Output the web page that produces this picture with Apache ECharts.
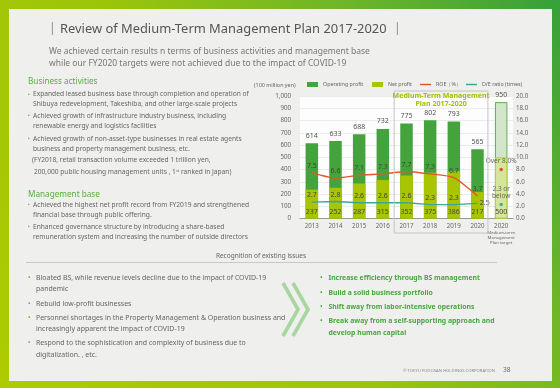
<!DOCTYPE html>
<html><head><meta charset="utf-8">
<script src="https://cdn.jsdelivr.net/npm/echarts@6/dist/echarts.min.js"></script>
<style>html,body{margin:0;padding:0;background:#fff}#c{width:560px;height:388px}</style>
</head><body><div id="c"></div>
<script>
// ---- data ----
var categories = ['2013','2014','2015','2016','2017','2018','2019','2020','2020 target'];
var operatingProfit = [614, 633, 688, 732, 775, 802, 793, 565, 950];
var netProfit = [237, 252, 287, 315, 352, 375, 386, 217, 500];
var roe = [7.5, 6.6, 7.1, 7.3, 7.7, 7.3, 6.7, 3.7, null];
var deRatio = [2.7, 2.8, 2.6, 2.6, 2.6, 2.3, 2.3, 2.5, null];
var roeTarget = [null, null, null, null, null, null, null, null, 8.0];
var deTarget = [null, null, null, null, null, null, null, null, 2.3];
var leftTicks = {min: 0, max: 1000, interval: 100};
var rightTicks = {min: 0, max: 20, interval: 2};

var FONT = 'Noto Sans';
var GREEN = '#45a33e', YG = '#a9c400', RED = '#e4572b', TEAL = '#3aa895';
var GRAY = '#666';

var chart = echarts.init(document.getElementById('c'), null, {renderer: 'canvas'});

function txt(x, y, s, opt) {
  opt = opt || {};
  return {type: 'text', x: x, y: y, silent: true, z: 10,
    style: {text: s, fontFamily: opt.ff || FONT, fontSize: opt.fs || 7, fill: opt.color || GRAY,
      fontWeight: opt.fw || 'normal', textAlign: opt.align || 'left', textVerticalAlign: 'middle',
      rich: opt.rich}};
}

var g = [];
// frame
g.push({type: 'rect', shape: {x: 0, y: 0, width: 560, height: 388}, z: -10, silent: true,
  style: {fill: new echarts.graphic.LinearGradient(0, 1, 1, 0, [
    {offset: 0, color: '#aecb00'}, {offset: 0.45, color: '#9cc50a'}, {offset: 0.75, color: '#6cb52a'}, {offset: 1, color: '#36a03a'}])}});
g.push({type: 'rect', shape: {x: 9, y: 9, width: 543, height: 372}, z: -9, silent: true,
  style: {fill: '#efefed'}});
// title
g.push(txt(49, 29, '|', {fs: 12, color: '#888'}));
g.push(txt(60, 29, 'Review of Medium-Term Management Plan 2017-2020', {fs: 12.9, color: '#555'}));
g.push(txt(394, 29, '|', {fs: 12, color: '#888'}));
g.push(txt(49, 52, 'We achieved certain results n terms of business activities and management base', {fs: 8.5, color: '#777'}));
g.push(txt(49, 64, 'while our FY2020 targets were not achieved due to the impact of COVID-19', {fs: 8.5, color: '#777'}));

// left column
var LFS = 6.63;
g.push(txt(28, 82, 'Business activities', {fs: 8.2, color: '#5aac42'}));
function lb(y, s, bullet, x) {
  if (bullet) g.push(txt(28, y, '▪', {fs: 5, color: '#6ab04a'}));
  g.push(txt(x || 33, y, s, {fs: LFS, color: GRAY}));
}
lb(94.3, 'Expanded leased business base through completion and operation of', true);
lb(104.5, 'Shibuya redevelopment, Takeshiba, and other large-scale projects');
lb(115.7, 'Achieved growth of infrastructure industry business, including', true);
lb(126.5, 'renewable energy and logistics facilities');
lb(138.8, 'Achieved growth of non-asset-type businesses in real estate agents', true);
lb(149.3, 'business and property management business, etc.');
lb(160, '(FY2018, retail transaction volume exceeded 1 trillion yen,', false, 32);
g.push(txt(34, 172, '200,000 public housing management units , 1{s|st} ranked in Japan)',
  {fs: LFS, color: GRAY, rich: {s: {fontSize: 4, fill: GRAY, verticalAlign: 'top', padding: [0, 0, 3, 0], fontFamily: FONT}}}));
g.push(txt(28, 194.3, 'Management base', {fs: 8.2, color: '#5aac42'}));
lb(205, 'Achieved the highest net profit record from FY2019 and strengthened', true);
lb(215.2, 'financial base through public offering.');
lb(226.7, 'Enhanced governance structure by introducing a share-based', true);
lb(236.8, 'remuneration system and increasing the number of outside directors');

// recognition
g.push(txt(261, 256.5, 'Recognition of existing issues', {fs: 6.5, color: GRAY, align: 'center'}));
g.push({type: 'line', shape: {x1: 26, y1: 262.5, x2: 497, y2: 262.5}, silent: true,
  style: {stroke: '#c8c8c8', lineWidth: 1}});
var BFS = 6.95;
function bl(y, s, bullet) {
  if (bullet) g.push(txt(28, y, '•', {fs: 7, color: '#6ab04a'}));
  g.push(txt(36, y, s, {fs: BFS, color: GRAY}));
}
bl(278.3, 'Bloated BS, while revenue levels decline due to the impact of COVID-19', true);
bl(289.3, 'pandemic');
bl(304, 'Rebuild low-profit businesses', true);
bl(318.3, 'Personnel shortages in the Property Management & Operation business and', true);
bl(329.3, 'increasingly apparent the impact of COVID-19');
bl(343.3, 'Respond to the sophistication and complexity of business due to', true);
bl(354.8, 'digitalization. , etc.');
// chevrons
[0, 10].forEach(function (dx) {
  g.push({type: 'polyline', silent: true, shape: {points: [[283 + dx, 283], [298 + dx, 309.5], [283 + dx, 336]]},
    style: {stroke: '#a9d6a0', lineWidth: 3.6, fill: null}});
});
function gl(y, s, bullet) {
  if (bullet) g.push(txt(320, y, '•', {fs: 7, color: '#4aa540'}));
  g.push(txt(328.5, y, s, {fs: 6.85, color: '#47a83e', fw: 'bold'}));
}
gl(278.3, 'Increase efficiency through BS management', true);
gl(292.7, 'Build a solid business portfolio', true);
gl(306.7, 'Shift away from labor-intensive operations', true);
gl(321, 'Break away from a self-supporting approach and', true);
gl(332.7, 'develop human capital');
// footer
g.push(txt(495, 371, '© TOKYU FUDOSAN HOLDINGS CORPORATION', {fs: 4.2, color: '#888', align: 'right'}));
g.push(txt(503, 370.5, '38', {fs: 6.5, color: '#666'}));
// unit
g.push(txt(254, 85, '(100 million yen)', {fs: 5.4, color: GRAY}));

var LINE_ICON = 'path://M0,0H12V1.6H0Z';
function leg(left, name, icon) {
  return {left: left, top: 82, itemWidth: 11, itemHeight: 5, selectedMode: false, padding: 0,
    textStyle: {fontFamily: FONT, fontSize: 5.3, color: GRAY},
    data: [{name: name, icon: icon}]};
}

var option = {
  animation: false,
  grid: {left: 300, right: 47, top: 96, bottom: 169.3, show: true, backgroundColor: '#fdfdfd', borderWidth: 0},
  legend: [
    leg(307, 'Operating profit', 'rect'),
    leg(372, 'Net profit', 'rect'),
    leg(420, 'ROE（%）', LINE_ICON),
    leg(466, 'D/E ratio (times)', LINE_ICON)
  ],
  xAxis: {
    type: 'category', data: categories,
    axisLine: {lineStyle: {color: '#9a9a9a', width: 1.2}},
    axisTick: {show: false},
    axisLabel: {
      interval: 0, margin: 4, fontFamily: FONT, fontSize: 6.2, color: GRAY, lineHeight: 8,
      formatter: function (v) {
        if (v === '2020 target') return '2020\n{s|Medium-term}\n{s|Management}\n{s|Plan target}';
        return v;
      },
      rich: {s: {fontSize: 4.3, lineHeight: 5, fontFamily: FONT, color: GRAY}}
    }
  },
  yAxis: [
    {type: 'value', min: leftTicks.min, max: leftTicks.max, interval: leftTicks.interval,
      axisLine: {show: false}, axisTick: {show: false},
      splitLine: {lineStyle: {color: '#e6e6e6', width: 0.8}},
      axisLabel: {margin: 9, fontFamily: FONT, fontSize: 6.2, color: GRAY,
        formatter: function (v) { return v.toLocaleString('en-US'); }}},
    {type: 'value', min: rightTicks.min, max: rightTicks.max, interval: rightTicks.interval,
      axisLine: {show: false}, axisTick: {show: false}, splitLine: {show: false},
      axisLabel: {margin: 3, fontFamily: FONT, fontSize: 6.2, color: GRAY,
        formatter: function (v) { return v.toFixed(1); }}}
  ],
  series: [
    {name: 'Operating profit', type: 'bar', barWidth: 12.5, z: 2,
      itemStyle: {color: GREEN},
      label: {show: true, position: 'top', distance: 4, fontFamily: FONT, fontSize: 7, color: '#555'},
      data: operatingProfit.map(function (v, i) {
        return i === 8 ? {value: v, itemStyle: {color: '#d2e6cb', borderColor: '#5cb04c', borderWidth: 1}} : v;
      })},
    {name: 'Net profit', type: 'bar', barWidth: 12.5, barGap: '-100%', z: 3,
      itemStyle: {color: YG},
      label: {show: true, position: 'insideBottom', distance: 3, fontFamily: FONT, fontSize: 7, color: '#4a4a3a'},
      data: netProfit.map(function (v, i) {
        return i === 8 ? {value: v, itemStyle: {color: '#d6e59e', borderColor: '#b6cf3a', borderWidth: 1}} : v;
      })},
    {name: 'ROE（%）', type: 'line', yAxisIndex: 1, z: 5, smooth: 0.2,
      symbol: 'circle', symbolSize: 0.5, lineStyle: {color: RED, width: 1.4}, itemStyle: {color: RED},
      label: {show: true, position: 'top', distance: 3, fontFamily: FONT, fontSize: 7, color: '#3d4a30'},
      data: roe},
    {name: 'D/E ratio (times)', type: 'line', yAxisIndex: 1, z: 5,
      symbol: 'circle', symbolSize: 0.5, lineStyle: {color: TEAL, width: 1.4}, itemStyle: {color: TEAL},
      label: {show: true, position: 'top', distance: 3, fontFamily: FONT, fontSize: 7, color: '#444'},
      data: deRatio.map(function (v, i) {
        return i === 7 ? {value: v, label: {position: 'right', distance: 2}} : v;
      })},
    {name: 'ROE target', type: 'scatter', yAxisIndex: 1, z: 6, symbolSize: 3.5,
      itemStyle: {color: '#e8262a'},
      label: {show: true, position: 'top', distance: 3, fontFamily: FONT, fontSize: 6.5, color: '#444',
        formatter: 'Over 8.0%'},
      data: roeTarget},
    {name: 'D/E target', type: 'scatter', yAxisIndex: 1, z: 6, symbolSize: 3.5,
      itemStyle: {color: '#2a9d8a'},
      label: {show: true, position: 'top', distance: 3, fontFamily: FONT, fontSize: 6.5, color: '#444', lineHeight: 7,
        formatter: '2.3 or\nbelow'},
      data: deTarget}
  ],
  graphic: g
};
chart.setOption(option);

// Medium-term plan box, positioned from the axis scale
var x17 = chart.convertToPixel({xAxisIndex: 0}, '2017');
var x20 = chart.convertToPixel({xAxisIndex: 0}, '2020');
var band = (x20 - x17) / 3;
var bx0 = x17 - band * 0.52, bx1 = x20 + band * 0.44;
chart.setOption({graphic: g.concat([
  {type: 'rect', silent: true, z: 8, shape: {x: bx0, y: 91, width: bx1 - bx0, height: 142},
    style: {fill: null, stroke: '#c4c4c4', lineWidth: 1}},
  txt((bx0 + bx1) / 2, 95.7, 'Medium-Term Management', {fs: 7, color: '#a3c200', fw: 'bold', align: 'center'}),
  txt((bx0 + bx1) / 2, 103.5, 'Plan 2017-2020', {fs: 7, color: '#a3c200', fw: 'bold', align: 'center'})
])}, {replaceMerge: ['graphic']});
</script></body></html>
